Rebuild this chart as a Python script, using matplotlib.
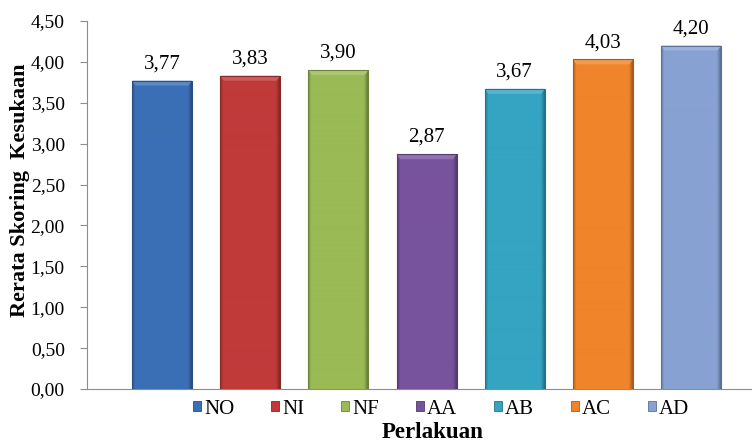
import numpy as np
import matplotlib
matplotlib.use("Agg")
import matplotlib.pyplot as plt
from matplotlib.colors import to_rgb
from matplotlib.patches import Patch

plt.rcParams["font.family"] = ["Liberation Serif", "DejaVu Serif"]

""" Data read off the reference chart """
categories = ["NO", "NI", "NF", "AA", "AB", "AC", "AD"]
values = [3.77, 3.83, 3.90, 2.87, 3.67, 4.03, 4.20]
value_labels = ["3,77", "3,83", "3,90", "2,87", "3,67", "4,03", "4,20"]
yticks = [0.0, 0.5, 1.0, 1.5, 2.0, 2.5, 3.0, 3.5, 4.0, 4.5]
ytick_labels = ["0,00", "0,50", "1,00", "1,50", "2,00", "2,50", "3,00", "3,50", "4,00", "4,50"]
colours = ["#3a6fb6", "#c03a3a", "#99ba55", "#78539d", "#34a4c2", "#ef842b", "#87a2d2"]


def shade(c, f):
    r = np.array(to_rgb(c))
    if f >= 0:
        return tuple(r + (1 - r) * f)
    return tuple(r * (1 + f))


fig = plt.figure(figsize=(7.52, 4.41), dpi=100)
ax = fig.add_axes([87 / 752, 52 / 441, 665 / 752, 368 / 441])

x = np.arange(len(categories))
bars = ax.bar(x, values, width=0.68, color=colours, edgecolor="none", zorder=2)

""" fake the Excel bevel: horizontal gradient clipped to each bar + lighter top """
for b, c in zip(bars, colours):
    x0, w, h = b.get_x(), b.get_width(), b.get_height()
    t = np.linspace(0, 1, 60)
    prof = np.where(t < 0.05, -0.2 + t / 0.05 * 0.2, np.where(t > 0.94, -(t - 0.94) / 0.06 * 0.3, 0.0))
    img = np.array([[shade(c, p) for p in prof]])
    im = ax.imshow(img, extent=[x0, x0 + w, 0, h], aspect="auto", zorder=3, interpolation="bilinear")
    im.set_clip_path(b)
    ax.fill([x0, x0 + 0.04, x0 + w - 0.04, x0 + w], [h, h - 0.06, h - 0.06, h],
            color=shade(c, 0.18), zorder=4, lw=0)
    ax.plot([x0, x0, x0 + w, x0 + w], [0, h, h, 0], color=shade(c, -0.3), lw=0.8, zorder=5)

for xi, v, lab in zip(x, values, value_labels):
    ax.text(xi, v + 0.09, lab, ha="center", va="bottom", fontsize=15)

ax.set_xlim(-0.85, 6.69)
ax.set_ylim(0, 4.5)
ax.set_yticks(yticks)
ax.set_yticklabels(ytick_labels, fontsize=14)
ax.set_xticks([])
for s in ["top", "right"]:
    ax.spines[s].set_visible(False)
ax.spines["left"].set_color("#8c8c8c")
ax.spines["bottom"].set_color("#8c8c8c")
ax.tick_params(axis="y", color="#8c8c8c", length=5, pad=11)

fig.text(20 / 752, 1 - 190 / 441, "Rerata Skoring  Kesukaan", rotation=90,
         ha="center", va="center", fontsize=16, fontweight="bold")

handles = [Patch(facecolor=c, edgecolor=shade(c, -0.3), lw=0.6) for c in colours]
fig.legend(handles, categories, loc="center", bbox_to_anchor=(441 / 752, 1 - 409 / 441),
           ncol=7, frameon=False, fontsize=15, handlelength=0.4, handleheight=0.4,
           handletextpad=0.15, columnspacing=1.75)
fig.text(433 / 752, 1 - 432 / 441, "Perlakuan", ha="center", va="center",
         fontsize=16.5, fontweight="bold")

fig.savefig("out.png", dpi=100)
